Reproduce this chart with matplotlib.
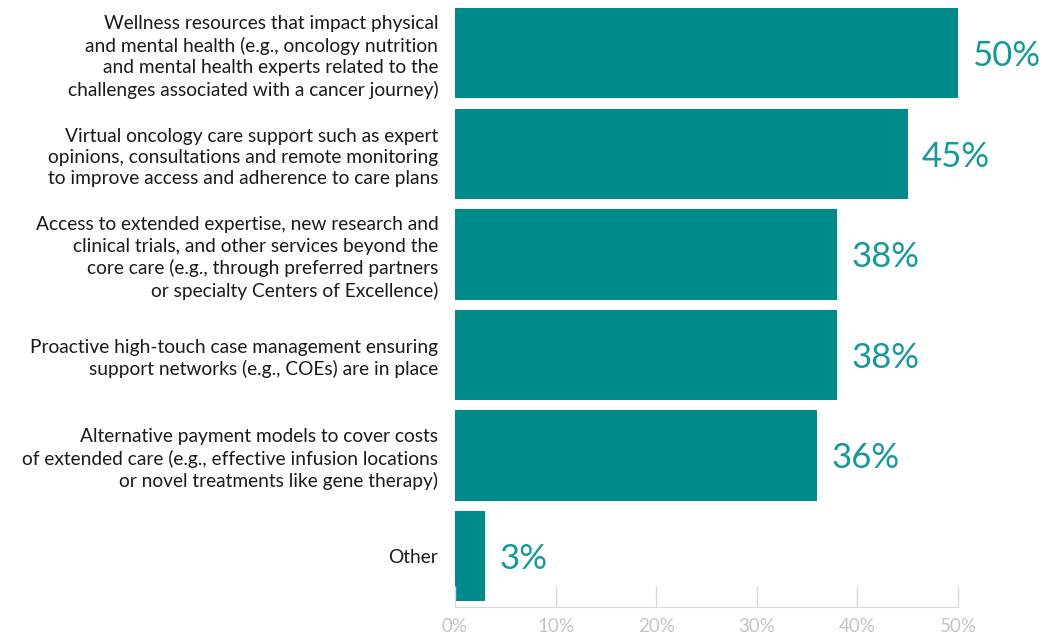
import numpy as np
import matplotlib.pyplot as plt

plt.rcParams['font.family'] = ['Lato', 'DejaVu Sans']

categories = [
    "Wellness resources that impact physical\nand mental health (e.g., oncology nutrition\nand mental health experts related to the\nchallenges associated with a cancer journey)",
    "Virtual oncology care support such as expert\nopinions, consultations and remote monitoring\nto improve access and adherence to care plans",
    "Access to extended expertise, new research and\nclinical trials, and other services beyond the\ncore care (e.g., through preferred partners\nor specialty Centers of Excellence)",
    "Proactive high-touch case management ensuring\nsupport networks (e.g., COEs) are in place",
    "Alternative payment models to cover costs\nof extended care (e.g., effective infusion locations\nor novel treatments like gene therapy)",
    "Other",
]
values = [50, 45, 38, 38, 36, 3]
xticks = [0, 10, 20, 30, 40, 50]

bar_color = "#008b8b"
label_color = "#159999"
axis_gray = "#d9d9d9"

fig = plt.figure(figsize=(10.44, 6.39), dpi=100)
ax = fig.add_axes([455 / 1044, 32 / 639, 503 / 1044, 599 / 639])

y = np.arange(len(categories))
ax.barh(y, values, height=0.9, color=bar_color)
for yi, v in zip(y, values):
    ax.text(v + 1.4, yi + 0.03, f"{v}%", va='center', ha='left',
            fontsize=25, color=label_color, clip_on=False)

ax.set_xlim(0, 50)
ax.set_ylim(5.507, -0.45)
ax.set_yticks(y)
ax.set_yticklabels(categories, fontsize=13.8, color="#1a1a1a", linespacing=1.3)
ax.tick_params(axis='y', length=0, pad=12)
ax.set_xticks(xticks)
ax.set_xticklabels([f"{t}%" for t in xticks], fontsize=13.5, color="#c4c4c4")
ax.tick_params(axis='x', direction='in', length=15, width=1, color=axis_gray, pad=8)

for s in ['top', 'right', 'left']:
    ax.spines[s].set_visible(False)
ax.spines['bottom'].set_color(axis_gray)

fig.savefig("out.png", dpi=100)
